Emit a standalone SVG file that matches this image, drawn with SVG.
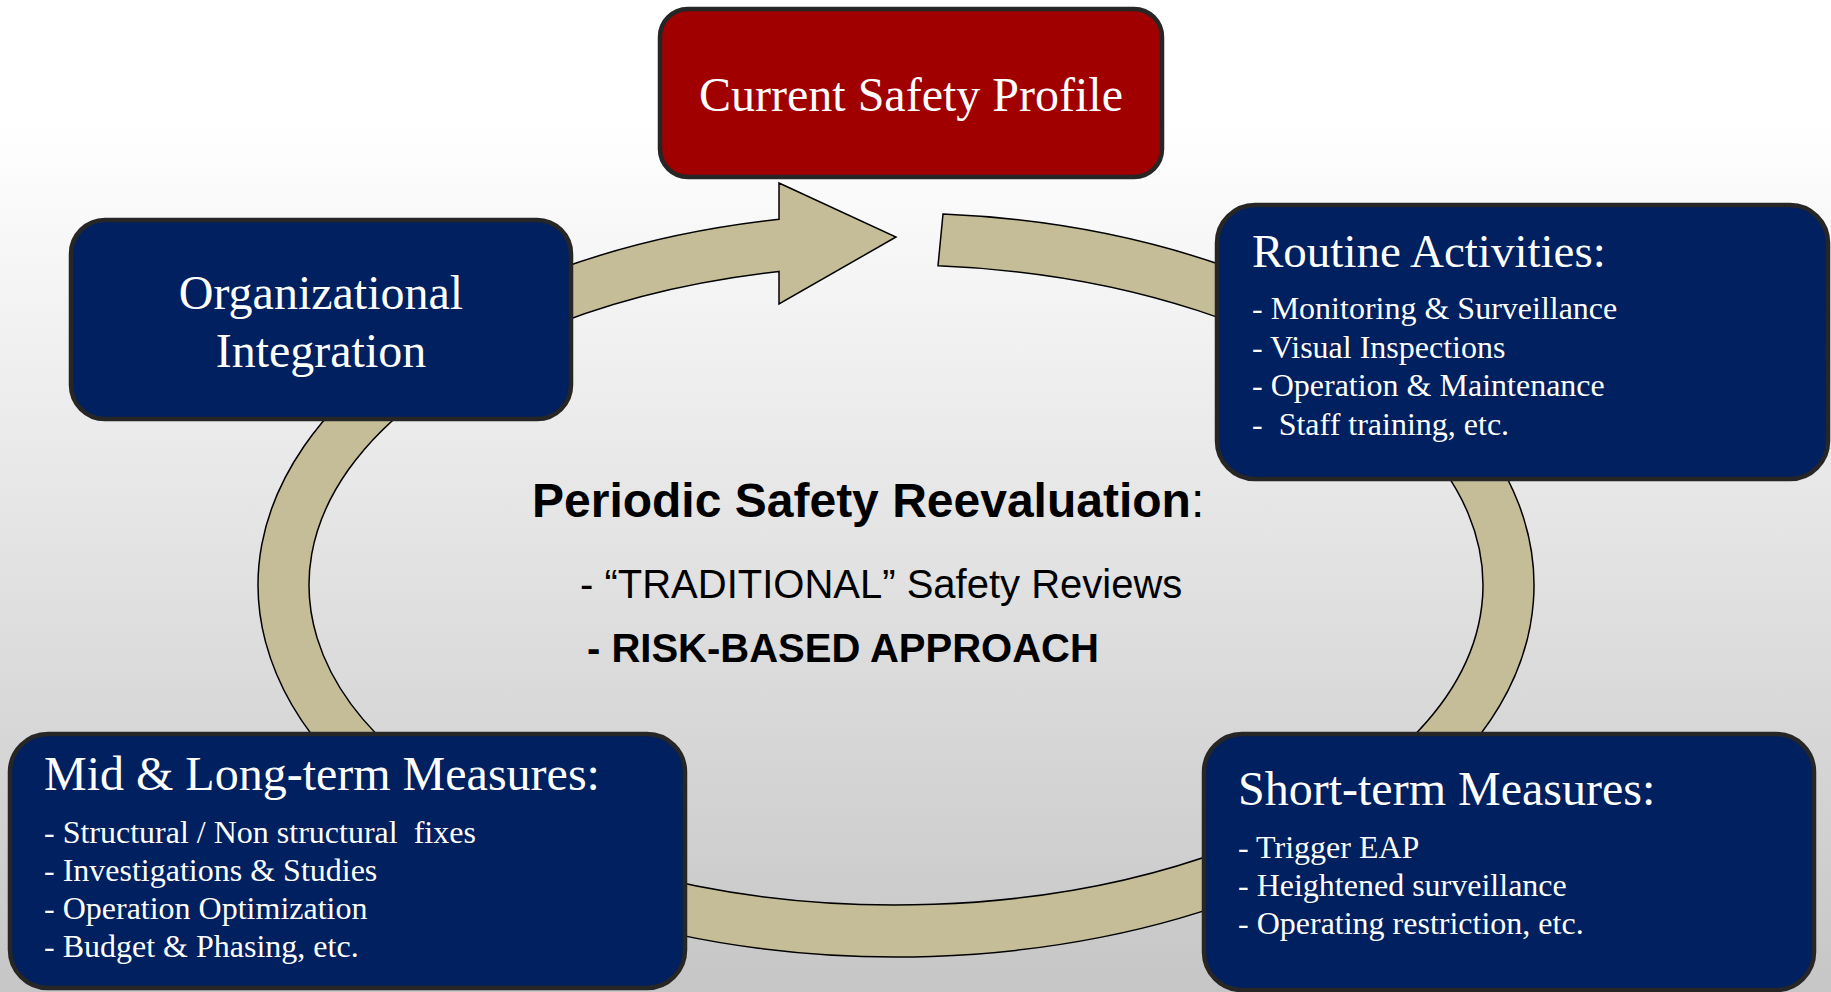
<svg xmlns="http://www.w3.org/2000/svg" width="1831" height="992" viewBox="0 0 1831 992">
<defs>
<linearGradient id="bg" x1="0" y1="0" x2="0" y2="1">
<stop offset="0" stop-color="#ffffff"/>
<stop offset="0.12" stop-color="#ffffff"/>
<stop offset="1" stop-color="#c6c6c6"/>
</linearGradient>
<style>
.box{fill:#002060;stroke:#262626;stroke-width:4.5}
.red{fill:#a00000;stroke:#262626;stroke-width:4.5}
.ring{fill:#c4bd97;stroke:#000;stroke-width:1.5;stroke-linejoin:miter}
.t{font-family:"Liberation Serif","Times New Roman",serif;fill:#fff}
.h{font-size:48px}
.b{font-size:32px}
.c{font-family:"Liberation Sans",Arial,sans-serif;fill:#000}
</style>
</defs>
<rect x="0" y="0" width="1831" height="992" fill="url(#bg)"/>
<g id="connectors">
<path class="ring" d="M943,214 A638,372 0 1 1 779,219.3 L779,183 L896,237 L779,304 L779,271.4 A587,320 0 1 0 938,265.8 Z"/>
</g>
<g id="current-safety-profile">
<rect class="red" x="660" y="9" width="502" height="168" rx="28"/>
<text class="t h" x="911" y="111" text-anchor="middle">Current Safety Profile</text>
</g>
<g id="organizational-integration">
<rect class="box" x="71" y="220" width="500" height="199" rx="34"/>
<text class="t h" x="321" y="309" text-anchor="middle">Organizational</text>
<text class="t h" x="321" y="367" text-anchor="middle">Integration</text>
</g>
<g id="routine-activities">
<rect class="box" x="1217" y="205" width="611" height="274" rx="38"/>
<text class="t" x="1252" y="267" font-size="47">Routine Activities:</text>
<text class="t b" x="1252" y="319">- Monitoring &amp; Surveillance</text>
<text class="t b" x="1252" y="357.5">- Visual Inspections</text>
<text class="t b" x="1252" y="396">- Operation &amp; Maintenance</text>
<text class="t b" x="1252" y="434.5" xml:space="preserve">-  Staff training, etc.</text>
</g>
<g id="short-term-measures">
<rect class="box" x="1204" y="734" width="610" height="256" rx="38"/>
<text class="t h" x="1238" y="805">Short-term Measures:</text>
<text class="t b" x="1238" y="858">- Trigger EAP</text>
<text class="t b" x="1238" y="896">- Heightened surveillance</text>
<text class="t b" x="1238" y="934">- Operating restriction, etc.</text>
</g>
<g id="mid-long-term-measures">
<rect class="box" x="10" y="734" width="675" height="254" rx="38"/>
<text class="t h" x="44" y="790">Mid &amp; Long-term Measures:</text>
<text class="t b" x="44" y="843" xml:space="preserve">- Structural / Non structural  fixes</text>
<text class="t b" x="44" y="881">- Investigations &amp; Studies</text>
<text class="t b" x="44" y="919">- Operation Optimization</text>
<text class="t b" x="44" y="957">- Budget &amp; Phasing, etc.</text>
</g>
<g id="periodic-safety-reevaluation">
<text class="c" x="532" y="517" font-size="48"><tspan font-weight="bold">Periodic Safety Reevaluation</tspan>:</text>
<text class="c" x="580" y="598" font-size="40">- “TRADITIONAL” Safety Reviews</text>
<text class="c" x="587" y="662" font-size="40" font-weight="bold">- RISK-BASED APPROACH</text>
</g>
</svg>
